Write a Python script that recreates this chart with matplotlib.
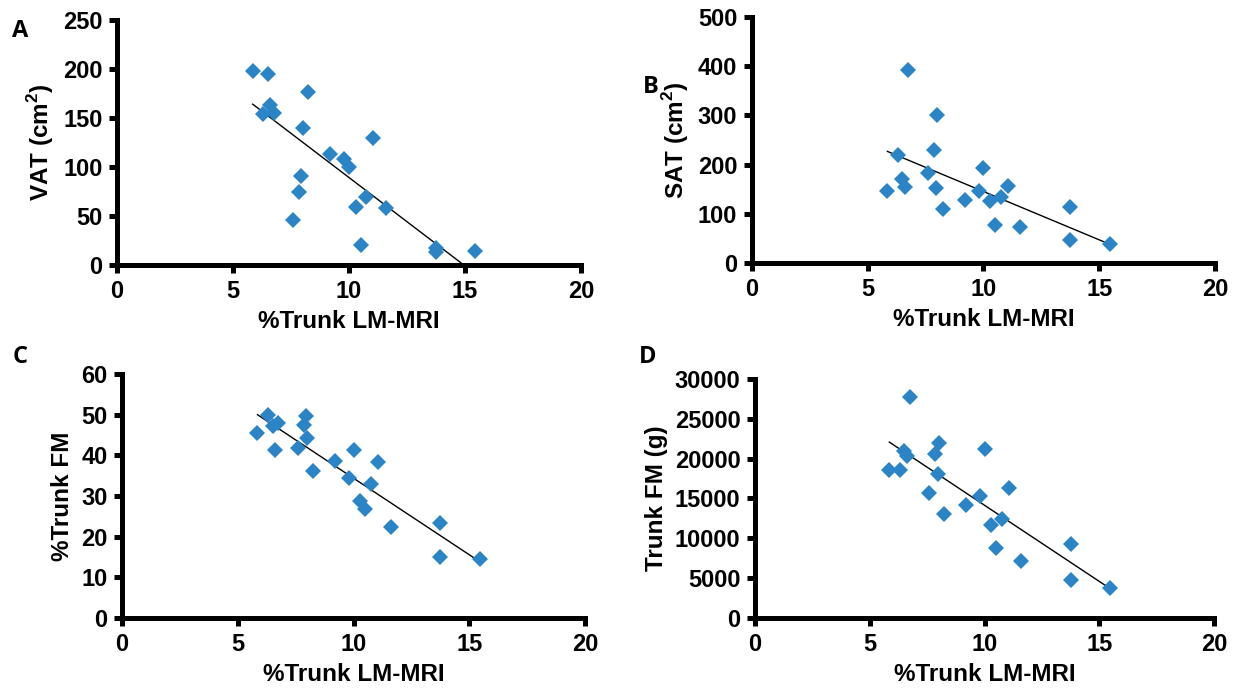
import numpy as np
import matplotlib.pyplot as plt

# %Trunk LM-MRI (shared x for every panel)
trunk_lm = [5.85, 6.3, 6.5, 6.6, 6.75, 7.6, 7.85, 7.95, 8.0, 8.25, 9.2,
            9.8, 10.0, 10.3, 10.5, 10.75, 11.05, 11.6, 13.75, 13.75, 15.45]

vat = [198, 154, 195, 163, 155, 46, 75, 91, 140, 177, 113,
       108, 100, 59, 20, 69, 130, 58, 17, 13, 14]
sat = [147, 219, 171, 154, 392, 183, 229, 152, 301, 110, 128,
       147, 194, 125, 77, 134, 156, 74, 114, 46, 38]
trunk_fm_pct = [45.6, 50, 47.2, 41.2, 48, 41.9, 47.5, 49.6, 44.2, 36.2, 38.6,
                34.5, 41.2, 28.8, 26.7, 33, 38.4, 22.3, 23.3, 15, 14.5]
trunk_fm_g = [18570, 18570, 21000, 20300, 27750, 15700, 20570, 18100, 22000, 13030, 14140,
              15290, 21190, 11680, 8730, 12380, 16310, 7170, 9300, 4800, 3810]

panel_letters = ["A", "B", "C", "D"]
y_labels = ["VAT (cm$^\\mathregular{2}$)", "SAT (cm$^\\mathregular{2}$)", "%Trunk FM", "Trunk FM (g)"]
y_limits = [(0, 250), (0, 500), (0, 60), (0, 30000)]
y_steps = [50, 100, 10, 5000]
x_ticks = [0, 5, 10, 15, 20]

plt.rcParams["font.family"] = ["Liberation Sans", "DejaVu Sans"]
plt.rcParams["mathtext.fontset"] = "custom"
plt.rcParams["mathtext.rm"] = "Liberation Sans:bold"

marker_color = "#2b84c6"

fig = plt.figure(figsize=(12.39, 6.95), dpi=100)

# axes rectangles in figure fractions
rects = [
    [0.0944, 0.6187, 0.3745, 0.3525],
    [0.6069, 0.6216, 0.3737, 0.3539],
    [0.0985, 0.1108, 0.3737, 0.3511],
    [0.6094, 0.1108, 0.3705, 0.3439],
]
letter_pos = [(0.010, 0.955), (0.519, 0.875), (0.010, 0.487), (0.516, 0.487)]

series = [vat, sat, trunk_fm_pct, trunk_fm_g]
x = np.array(trunk_lm)

for i, y_vals in enumerate(series):
    ax = fig.add_axes(rects[i])
    y = np.array(y_vals)
    ax.plot(x, y, linestyle="none", marker="D", markersize=8.5,
            color=marker_color, markeredgewidth=0, zorder=3)

    # least-squares trend line over the data range
    slope, intercept = np.polyfit(x, y, 1)
    xs = np.array([x.min(), x.max()])
    ax.plot(xs, slope * xs + intercept, color="black", linewidth=1.0, zorder=2)

    ax.set_xlim(0, 20)
    ax.set_ylim(*y_limits[i])
    ax.set_xticks(x_ticks)
    ax.set_yticks(np.arange(0, y_limits[i][1] + 1, y_steps[i]))

    for side in ["top", "right"]:
        ax.spines[side].set_visible(False)
    for side in ["left", "bottom"]:
        ax.spines[side].set_linewidth(3.6)
        ax.spines[side].set_capstyle("projecting")
    ax.tick_params(width=3.6, length=5.5, direction="out", labelsize=17, pad=5)
    for lab in ax.get_xticklabels() + ax.get_yticklabels():
        lab.set_fontweight("bold")

    ax.set_xlabel("%Trunk LM-MRI", fontsize=17.5, fontweight="bold", labelpad=5)
    ax.set_ylabel(y_labels[i], fontsize=17.5, fontweight="bold", labelpad=5)

    fig.text(letter_pos[i][0], letter_pos[i][1], panel_letters[i], fontsize=17,
             fontweight="bold", family=["Open Sans", "DejaVu Sans"], va="center")

fig.savefig("out.png", dpi=100)
